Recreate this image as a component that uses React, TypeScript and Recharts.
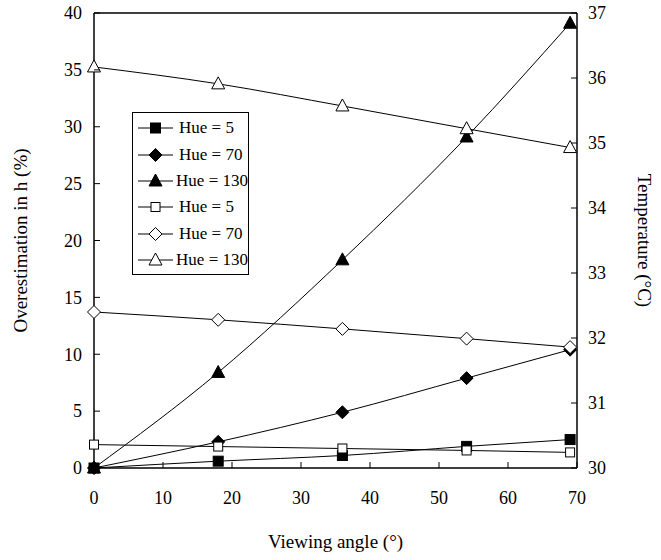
import React from "react";
import { Label, Legend, Line, LineChart, ReferenceLine, XAxis, YAxis } from "recharts";

// viewing angle (deg)
const angles = [0, 18, 36, 54, 69];

// overestimation in h (%) - filled markers, left axis
const hue5Over = [0, 0.6, 1.1, 1.9, 2.5];
const hue70Over = [0, 2.3, 4.9, 7.9, 10.4];
const hue130Over = [0, 8.4, 18.3, 29.1, 39.1];

// temperature (degC) - open markers, right axis
const hue5Temp = [30.36, 30.33, 30.3, 30.27, 30.24];
const hue70Temp = [32.4, 32.28, 32.14, 31.99, 31.86];
const hue130Temp = [36.17, 35.91, 35.57, 35.22, 34.93];

const xTicks = [0, 10, 20, 30, 40, 50, 60, 70];
const leftTicks = [0, 5, 10, 15, 20, 25, 30, 35, 40];
const rightTicks = [30, 31, 32, 33, 34, 35, 36, 37];

const FONT = "Liberation Serif";

type Shape = "square" | "diamond" | "triangle";

const series = [
    { key: "hue5Over", name: "Hue = 5", values: hue5Over, axis: "left", shape: "square" as Shape, filled: true },
    { key: "hue70Over", name: "Hue = 70", values: hue70Over, axis: "left", shape: "diamond" as Shape, filled: true },
    { key: "hue130Over", name: "Hue = 130", values: hue130Over, axis: "left", shape: "triangle" as Shape, filled: true },
    { key: "hue5Temp", name: "Hue = 5", values: hue5Temp, axis: "right", shape: "square" as Shape, filled: false },
    { key: "hue70Temp", name: "Hue = 70", values: hue70Temp, axis: "right", shape: "diamond" as Shape, filled: false },
    { key: "hue130Temp", name: "Hue = 130", values: hue130Temp, axis: "right", shape: "triangle" as Shape, filled: false },
];

const data = angles.map((angle, i) => {
    const row: Record<string, number> = { angle };
    series.forEach((s) => (row[s.key] = s.values[i]));
    return row;
});

function Marker({ cx, cy, shape, filled }: { cx: number; cy: number; shape: Shape; filled: boolean }) {
    const fill = filled ? "#000" : "#fff";
    if (shape === "square") {
        const h = filled ? 5 : 4.5;
        return <rect x={cx - h} y={cy - h} width={h * 2} height={h * 2} fill={fill} stroke="#000" strokeWidth={1} />;
    }
    if (shape === "diamond") {
        const h = 6.5;
        return <polygon points={`${cx},${cy - h} ${cx + h},${cy} ${cx},${cy + h} ${cx - h},${cy}`} fill={fill} stroke="#000" strokeWidth={1} />;
    }
    const w = 6.5;
    return <polygon points={`${cx},${cy - 7} ${cx + w},${cy + 5} ${cx - w},${cy + 5}`} fill={fill} stroke="#000" strokeWidth={1} />;
}

function XTick(props: any) {
    const { x, y, payload } = props;
    return (
        <g>
            <line x1={x} y1={y} x2={x} y2={y - 6} stroke="#000" />
            <text x={x} y={y + 36} textAnchor="middle" style={{ fontFamily: FONT, fontSize: 18 }} fill="#000">
                {payload.value}
            </text>
        </g>
    );
}

function LeftTick(props: any) {
    const { x, y, payload } = props;
    return (
        <g>
            <line x1={x} y1={y} x2={x + 6} y2={y} stroke="#000" />
            <text x={x - 12} y={y} dy="0.35em" textAnchor="end" style={{ fontFamily: FONT, fontSize: 18 }} fill="#000">
                {payload.value}
            </text>
        </g>
    );
}

function RightTick(props: any) {
    const { x, y, payload } = props;
    return (
        <g>
            <line x1={x} y1={y} x2={x - 6} y2={y} stroke="#000" />
            <text x={x + 11} y={y} dy="0.35em" textAnchor="start" style={{ fontFamily: FONT, fontSize: 18 }} fill="#000">
                {payload.value}
            </text>
        </g>
    );
}

function LegendBox() {
    return (
        <div
            style={{
                border: "1px solid #000",
                background: "#fff",
                width: 117,
                padding: "2px 0 1px 0",
                fontFamily: FONT,
                fontSize: 17,
                boxSizing: "border-box",
            }}
        >
            {series.map((s) => (
                <div key={s.key} style={{ display: "flex", alignItems: "center", height: 26.4 }}>
                    <svg width={46} height={20} style={{ display: "block" }}>
                        <line x1={5} y1={10} x2={40} y2={10} stroke="#000" />
                        <Marker cx={22.5} cy={10} shape={s.shape} filled={s.filled} />
                    </svg>
                    <span style={{ whiteSpace: "nowrap" }}>{s.name}</span>
                </div>
            ))}
        </div>
    );
}

export default function App() {
    return (
        <div style={{ position: "absolute", left: 0, top: 0, width: 661, height: 560, background: "#fff", fontFamily: FONT }}>
            <LineChart width={661} height={560} data={data} margin={{ top: 13, right: 0, bottom: 0, left: 0 }}>
                <XAxis
                    dataKey="angle"
                    type="number"
                    domain={[0, 70]}
                    ticks={xTicks}
                    height={92}
                    tickSize={0}
                    tickMargin={0}
                    tickLine={false}
                    tick={XTick}
                    axisLine={{ stroke: "#000", strokeWidth: 1.5 }}
                >
                    <Label
                        value="Viewing angle (°)"
                        position="insideBottom"
                        offset={12}
                        style={{ fontFamily: FONT, fontSize: 19, fill: "#000" }}
                    />
                </XAxis>
                <YAxis
                    yAxisId="left"
                    domain={[0, 40]}
                    ticks={leftTicks}
                    width={94}
                    tickSize={0}
                    tickMargin={0}
                    tickLine={false}
                    tick={LeftTick}
                    axisLine={{ stroke: "#000", strokeWidth: 1.5 }}
                >
                    <Label
                        value="Overestimation in h (%)"
                        angle={-90}
                        position="insideLeft"
                        offset={20}
                        style={{ fontFamily: FONT, fontSize: 19, fill: "#000", textAnchor: "middle" }}
                    />
                </YAxis>
                <YAxis
                    yAxisId="right"
                    orientation="right"
                    domain={[30, 37]}
                    ticks={rightTicks}
                    width={84}
                    tickSize={0}
                    tickMargin={0}
                    tickLine={false}
                    tick={RightTick}
                    axisLine={{ stroke: "#000", strokeWidth: 1.5 }}
                >
                    <Label
                        value="Temperature (°C)"
                        angle={90}
                        position="insideRight"
                        offset={16}
                        style={{ fontFamily: FONT, fontSize: 19, fill: "#000", textAnchor: "middle" }}
                    />
                </YAxis>
                <ReferenceLine yAxisId="left" y={40} stroke="#000" strokeWidth={1.5} />
                <Legend
                    layout="vertical"
                    align="center"
                    verticalAlign="middle"
                    content={() => <LegendBox />}
                    wrapperStyle={{ left: 132, top: 112, width: 117, height: "auto" }}
                />
                {series.map((s) => (
                    <Line
                        key={s.key}
                        yAxisId={s.axis}
                        dataKey={s.key}
                        name={s.name}
                        type="monotone"
                        stroke="#000"
                        strokeWidth={1}
                        isAnimationActive={false}
                        activeDot={false}
                        dot={(p: any) => (
                            <Marker key={`${s.key}-${p.index}`} cx={p.cx} cy={p.cy} shape={s.shape} filled={s.filled} />
                        )}
                    />
                ))}
            </LineChart>
        </div>
    );
}
